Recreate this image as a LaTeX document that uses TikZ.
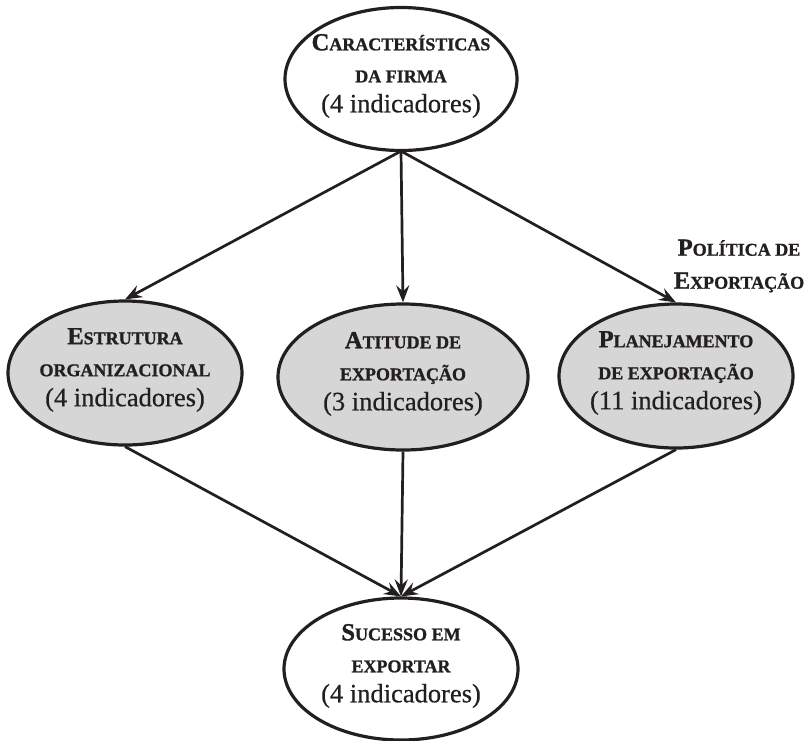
\documentclass[tikz,border=0pt]{standalone}
\usepackage{fontspec}
\setmainfont{Liberation Serif}[BoldFont={Liberation Serif Bold},UprightFeatures={FakeBold=0.5},BoldFeatures={FakeBold=1.2}]
\usetikzlibrary{shapes.geometric,arrows.meta}
\definecolor{ink}{HTML}{231F20}
\definecolor{ellfill}{HTML}{D6D6D6}
\newcommand\bigc[1]{{\fontsize{24.5}{24.5}\selectfont\bfseries #1}}
\newcommand\smc[1]{{\fontsize{18}{18}\selectfont\bfseries #1}}
\newcommand\indic[1]{{\fontsize{26.5}{26.5}\selectfont #1}}
\begin{document}
\begin{tikzpicture}[x=1pt,y=-1pt,
  ell/.style={ellipse,draw=ink,line width=3.2pt,minimum width=232pt,minimum height=143pt,inner sep=0pt},
  grey/.style={ell,fill=ellfill},
  white/.style={ell,fill=white},
  lbl/.style={align=center,text=ink,font={\fontsize{24}{32}\selectfont},inner sep=0pt},
  arr/.style={draw=ink,line width=2.7pt,-{Stealth[length=17pt,width=13pt,inset=6pt]}}]
\useasboundingbox (0,0) rectangle (808,740);
% ellipses
\node[white] (top) at (401,79) {};
\node[grey,minimum width=234pt,minimum height=144pt] (left) at (125,373) {};
\node[grey,minimum width=250pt,minimum height=146pt] (mid) at (403,377) {};
\node[grey,minimum width=234pt,minimum height=144pt] (right) at (676,376) {};
\node[white,minimum width=234pt,minimum height=142pt] (bot) at (401,669) {};
% labels
\node[lbl] (ttop) at ([yshift=3pt]top.center) {\bigc{C}\smc{ARACTERÍSTICAS}\\ \smc{DA FIRMA}\\[-2pt] \indic{(4 indicadores)}};
\node[lbl] (tleft) at ([yshift=3pt]left.center) {\bigc{E}\smc{STRUTURA}\\ \smc{ORGANIZACIONAL}\\[-2pt] \indic{(4 indicadores)}};
\node[lbl] (tmid) at ([yshift=3pt]mid.center) {\bigc{A}\smc{TITUDE DE}\\ \smc{EXPORTAÇÃO}\\[-2pt] \indic{(3 indicadores)}};
\node[lbl] (tright) at ([yshift=3pt]right.center) {\bigc{P}\smc{LANEJAMENTO}\\ \smc{DE EXPORTAÇÃO}\\[-2pt] \indic{(11 indicadores)}};
\node[lbl] (tbot) at ([yshift=3pt]bot.center) {\bigc{S}\smc{UCESSO EM}\\ \smc{EXPORTAR}\\[-2pt] \indic{(4 indicadores)}};
\node[lbl,font={\fontsize{24}{33}\selectfont}] (pol) at (739,266) {\bigc{P}\smc{OLÍTICA DE}\\ \bigc{E}\smc{XPORTAÇÃO}};
% connectors
\coordinate (src) at ([yshift=1pt]top.south);
\draw[arr] (src) -- (left.north);
\draw[arr] (src) -- (mid.north);
\draw[arr] (src) -- (right.north);
\draw[arr] (left.south) -- (bot.north);
\draw[arr] (mid.south) -- (bot.north);
\draw[arr] (right.south) -- (bot.north);
\end{tikzpicture}
\end{document}
